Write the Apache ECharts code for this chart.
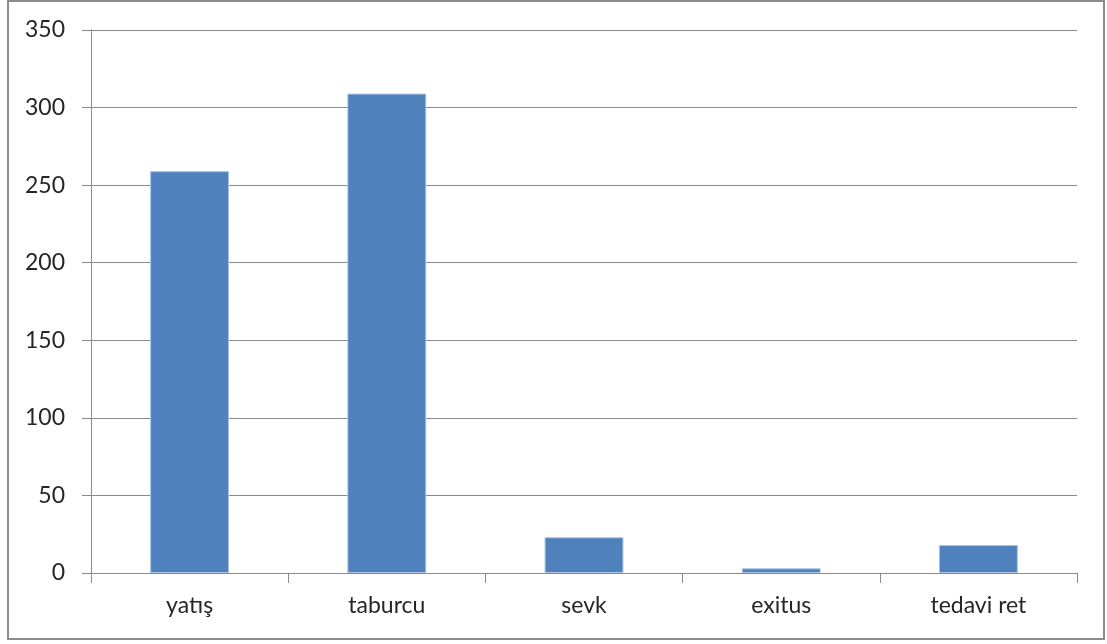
<!DOCTYPE html>
<html>
<head>
<meta charset="utf-8">
<script src="https://cdn.jsdelivr.net/npm/echarts@6/dist/echarts.min.js"></script>
<style>
  html, body { margin: 0; padding: 0; background: #fff; }
  #chart { width: 1107px; height: 644px; }
</style>
</head>
<body>
<div id="chart"></div>
<script>
// Patient outcome counts
const categories = ['yatış', 'taburcu', 'sevk', 'exitus', 'tedavi ret'];
const counts = [259, 309, 23, 3, 18];
const yTicks = { min: 0, max: 350, interval: 50 };

const FONT = 'Lato, "Liberation Sans", sans-serif';
const GRAY = '#8a8a8a';

const chart = echarts.init(document.getElementById('chart'), null, { renderer: 'canvas' });
chart.setOption({
  animation: false,
  backgroundColor: '#ffffff',
  grid: { left: 91, right: 30, top: 30, bottom: 71, containLabel: false },
  xAxis: {
    type: 'category',
    data: categories,
    boundaryGap: true,
    axisLine: { lineStyle: { color: GRAY, width: 1 } },
    axisTick: { show: true, length: 10, lineStyle: { color: GRAY } },
    axisLabel: { color: '#262626', fontSize: 23, fontFamily: FONT, margin: 21 }
  },
  yAxis: {
    type: 'value',
    min: yTicks.min,
    max: yTicks.max,
    interval: yTicks.interval,
    axisLine: { show: true, lineStyle: { color: GRAY, width: 1 } },
    axisTick: { show: true, inside: false, length: 9, lineStyle: { color: GRAY } },
    axisLabel: { color: '#262626', fontSize: 23, fontFamily: FONT, margin: 26 },
    splitLine: { show: true, lineStyle: { color: GRAY, width: 1 } }
  },
  series: [{
    type: 'bar',
    data: counts,
    barWidth: '40%',
    itemStyle: { color: '#4f81bd', borderColor: '#a9c1e2', borderWidth: 1 }
  }],
  graphic: [{
    type: 'rect',
    shape: { x: 8, y: 1, width: 1096, height: 638 },
    style: { fill: 'none', stroke: '#8c8c8c', lineWidth: 2 },
    silent: true
  }]
});
</script>
</body>
</html>
